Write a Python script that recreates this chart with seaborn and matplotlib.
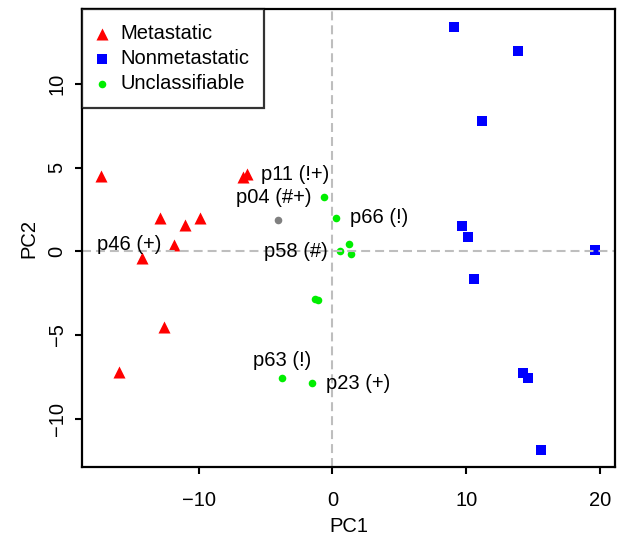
import pandas as pd
import matplotlib
matplotlib.use("Agg")
import matplotlib.pyplot as plt
import seaborn as sns

# valores (PC1, PC2)
met_x = [-17.3, -6.65, -6.35, -12.9, -11.0, -9.9, -11.8, -14.2, -12.6, -15.95]
met_y = [4.5, 4.45, 4.6, 2.0, 1.55, 2.0, 0.4, -0.4, -4.5, -7.2]
non_x = [9.1, 13.85, 11.2, 9.65, 10.1, 19.6, 10.6, 14.2, 14.6, 15.55]
non_y = [13.4, 12.0, 7.8, 1.5, 0.85, 0.1, -1.65, -7.25, -7.55, -11.9]
unc_x = [-0.6, 0.3, 0.6, 1.25, 1.4, -1.3, -1.1, -3.75, -1.5]
unc_y = [3.25, 2.0, 0.0, 0.45, -0.15, -2.85, -2.9, -7.55, -7.9]
gris_x = [-4.1]
gris_y = [1.9]

grupos = ['Metastatic', 'Nonmetastatic', 'Unclassifiable']
colores = {'Metastatic': '#FF0000', 'Nonmetastatic': '#0000FF', 'Unclassifiable': '#00EE00'}
marcadores = {'Metastatic': '^', 'Nonmetastatic': 's', 'Unclassifiable': 'o'}
tamanos = {'Metastatic': 75, 'Nonmetastatic': 45, 'Unclassifiable': 30}

# etiquetas: (texto, grupo, indice del punto, posicion tipo R: 2=izq, 3=arriba, 4=der)
etiquetas = [
    ('p11 (!+)', 'Metastatic', 2, 4),
    ('p46 (+)', 'Metastatic', 6, 2),
    ('p04 (#+)', 'Unclassifiable', 0, 2),
    ('p66 (!)', 'Unclassifiable', 1, 4),
    ('p58 (#)', 'Unclassifiable', 2, 2),
    ('p63 (!)', 'Unclassifiable', 7, 3),
    ('p23 (+)', 'Unclassifiable', 8, 4),
]

df = pd.concat([
    pd.DataFrame({'PC1': met_x, 'PC2': met_y, 'grupo': 'Metastatic'}),
    pd.DataFrame({'PC1': non_x, 'PC2': non_y, 'grupo': 'Nonmetastatic'}),
    pd.DataFrame({'PC1': unc_x, 'PC2': unc_y, 'grupo': 'Unclassifiable'}),
], ignore_index=True)

sns.set_style("white")
plt.rcParams['font.family'] = ['Liberation Sans', 'DejaVu Sans']
plt.rcParams['font.size'] = 14.5
plt.rcParams['text.color'] = 'black'
plt.rcParams['axes.labelcolor'] = 'black'
plt.rcParams['xtick.color'] = 'black'
plt.rcParams['ytick.color'] = 'black'

fs = 14.5
fig = plt.figure(figsize=(6.19, 5.38), dpi=100)
ax = fig.add_axes([82 / 619, 1 - 467 / 538, (615 - 82) / 619, (467 - 9) / 538])

for g in grupos:
    sub = df[df['grupo'] == g]
    sns.scatterplot(data=sub, x='PC1', y='PC2', color=colores[g], marker=marcadores[g],
                    s=tamanos[g], linewidth=0, ax=ax, label=g, zorder=1)
sns.scatterplot(x=gris_x, y=gris_y, color='#808080', marker='o', s=30, linewidth=0,
                ax=ax, legend=False, zorder=1)

ax.axvline(0, color='#BEBEBE', lw=1.5, dashes=(4.3, 2.4), zorder=2)
ax.axhline(0, color='#BEBEBE', lw=1.5, dashes=(4.3, 2.4), zorder=2)

offs = {2: (-9.5, 0, 'right', 'center'), 3: (0, 12.5, 'center', 'center'),
        4: (9.5, 0, 'left', 'center')}
for texto, g, i, pos in etiquetas:
    sub = df[df['grupo'] == g].reset_index(drop=True)
    dx, dy, ha, va = offs[pos]
    ax.annotate(texto, (sub.loc[i, 'PC1'], sub.loc[i, 'PC2']), xytext=(dx, dy),
                textcoords='offset points', ha=ha, va=va, fontsize=fs, color='black')

ax.set_xlim(-18.7, 21.1)
ax.set_ylim(-12.9, 14.5)
ax.set_xticks([-10, 0, 10, 20])
ax.set_yticks([-10, -5, 0, 5, 10])
ax.set_xlabel('PC1', fontsize=fs, labelpad=5)
ax.set_ylabel('PC2', fontsize=fs, labelpad=7)
ax.tick_params(axis='both', direction='out', length=5, width=1.5, labelsize=fs,
               bottom=True, left=True, color='black')
ax.tick_params(axis='x', pad=12)
ax.tick_params(axis='y', pad=6)
plt.setp(ax.get_yticklabels(), rotation=90, va='center')
for sp in ax.spines.values():
    sp.set_color('black')
    sp.set_linewidth(1.6)

leg = ax.legend(loc='upper left', borderaxespad=0, frameon=True, fancybox=False,
                fontsize=fs, handlelength=0.5, handletextpad=0.65, labelspacing=0.3,
                borderpad=0.75)
leg.get_frame().set_edgecolor('black')
leg.get_frame().set_linewidth(1.6)

fig.savefig('out.png', dpi=100)
